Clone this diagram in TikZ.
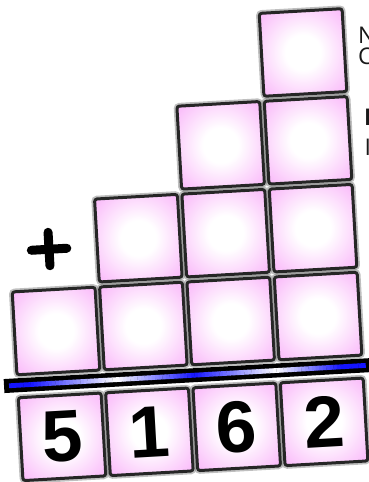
\documentclass[tikz,border=0pt]{standalone}
\usepackage{fontspec}
\setmainfont{Liberation Sans}
\newfontfamily\opensans{Open Sans}
\definecolor{pinkc}{RGB}{249,176,249}
\definecolor{barblue}{RGB}{20,20,255}
\pgfdeclareradialshading{cellshade}{\pgfpoint{0bp}{0bp}}{color(0bp)=(white); color(10bp)=(white); color(36bp)=(pinkc); color(75bp)=(pinkc)}
\tikzset{
  cellbox/.style={minimum size=83pt, inner sep=0pt, rounded corners=2.5pt,
    shade, shading=cellshade, draw=black!85, line width=3pt,
    preaction={draw=black!50, line width=6.5pt, opacity=0.5}},
  digit/.style={font=\bfseries\fontsize{73}{73}\selectfont, text=black},
  plusarm/.style={line width=9pt, line cap=round, draw=black},
  sidetext/.style={anchor=base west, inner sep=0pt, font=\opensans\fontsize{23}{23}\selectfont, text=black!90}
}
\begin{document}
\begin{tikzpicture}[x=1pt,y=1pt]
\useasboundingbox (0,0) rectangle (369,-482);
\clip (0,0) rectangle (369,-482);
\fill[white] (0,0) rectangle (369,-482);
\begin{scope}[shift={(56,-331)}, rotate=3.27, transform shape]
  % addend cells
  \node[cellbox] (r1c1) at (0,0) {};
  \node[cellbox] (r1c2) at (87.5,0) {};
  \node[cellbox] (r1c3) at (175,0) {};
  \node[cellbox] (r1c4) at (262.5,0) {};
  \node[cellbox] (r2c2) at (87.5,88) {};
  \node[cellbox] (r2c3) at (175,88) {};
  \node[cellbox] (r2c4) at (262.5,88) {};
  \node[cellbox] (r3c3) at (175,176) {};
  \node[cellbox] (r3c4) at (262.5,176) {};
  \node[cellbox] (r4c4) at (262.5,264) {};
  % plus sign
  \coordinate (pl) at (-20,82);
  \coordinate (pr) at (15.5,82);
  \coordinate (pt) at (-2.3,99);
  \coordinate (pb) at (-2.3,65.5);
  \draw[plusarm] (pl) -- (pr);
  \draw[plusarm] (pt) -- (pb);
  % bar
  \fill[black] (-55,-59) rectangle (312,-45);
  \foreach \i in {0,...,99}{
    \pgfmathsetmacro\f{\i+0.5}
    \pgfmathsetmacro\p{\f<6 ? 100 : (\f<30 ? 100-(\f-6)*100/24 : (\f<52 ? (\f-30)*100/22 : (\f<75 ? 100-(\f-52)*100/23 : (\f<93 ? (\f-75)*100/18 : 100))))}
    \colorlet{segc}{barblue!\p!white}
    \fill[segc] ({-50+\i*3.57},-54.4) rectangle ({-50+(\i+1)*3.57+0.3},-49.6);
  }
  % answer cells
  \node[cellbox] (a1) at (0,-106) {};
  \node[cellbox] (a2) at (87.5,-106) {};
  \node[cellbox] (a3) at (175,-106) {};
  \node[cellbox] (a4) at (262.5,-106) {};
  \node[digit] (d1) at (a1) {5};
  \node[digit] (d2) at (a2) {1};
  \node[digit] (d3) at (a3) {6};
  \node[digit] (d4) at (a4) {2};
\end{scope}
\node[sidetext] (t1) at (358,-43) {N};
\node[sidetext] (t2) at (358,-64) {C};
\node[sidetext, font=\opensans\bfseries\fontsize{23}{23}\selectfont] (t3) at (364,-125) {I};
\node[sidetext] (t4) at (364.5,-155) {I};
\end{tikzpicture}
\end{document}
